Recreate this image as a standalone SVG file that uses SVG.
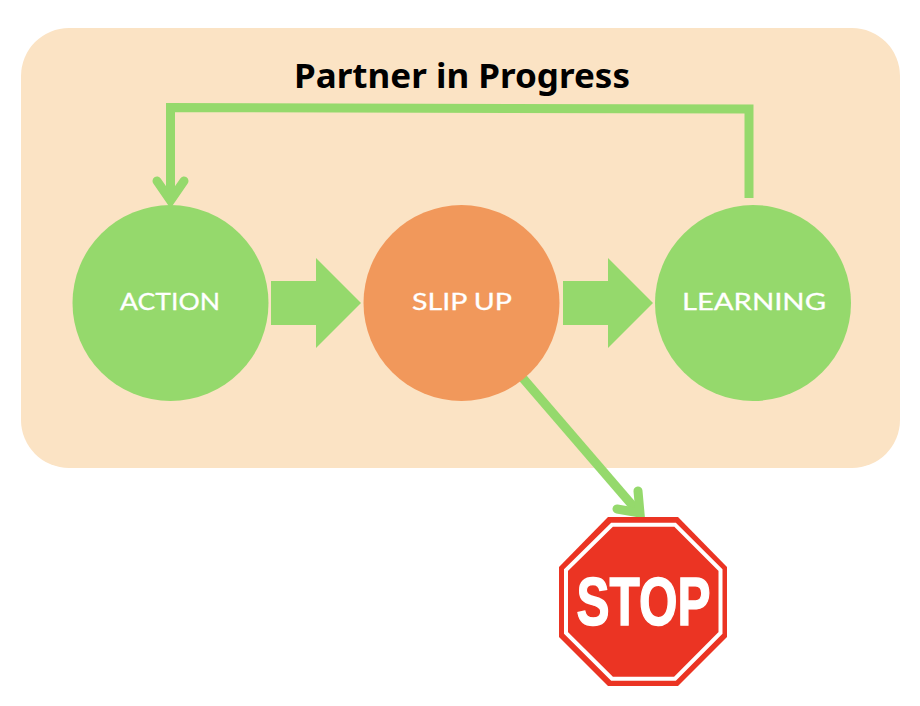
<svg xmlns="http://www.w3.org/2000/svg" width="920" height="706" viewBox="0 0 920 706">
<style>
.lbl{font-family:"Lato","Noto Sans",sans-serif;font-size:24px;fill:#fff;stroke:#fff;stroke-width:.3;text-anchor:middle}
.green{fill:#95D96C}
.line{fill:none;stroke:#95D96C;stroke-width:9}
.head{fill:none;stroke:#95D96C;stroke-width:9;stroke-linecap:round;stroke-linejoin:miter}
</style>
<rect width="920" height="706" fill="#fff"/>
<rect id="panel" x="21" y="28" width="879" height="440" rx="48" fill="#FBE3C4"/>
<text id="title" x="462" y="88" font-family="'Noto Sans','Open Sans',sans-serif" font-weight="700" font-size="34" text-anchor="middle" textLength="336" lengthAdjust="spacingAndGlyphs" fill="#000">Partner in Progress</text>
<g id="connectors">
<path class="line" d="M749 198V109L170.500 107.500V198"/>
<path class="head" d="M157 181L170.500 200.500L184 181"/>
<path class="green" d="M271 281H316V258L361 303L316 348V325H271Z"/>
<path class="green" d="M563 281H608V258L653 303L608 348V325H563Z"/>
<path class="line" d="M521 376L639 513"/>
<path class="head" d="M617 509L640 513L638 491"/>
</g>
<g id="action"><circle class="green" cx="170.500" cy="303" r="98"/><text class="lbl" x="170" y="310" textLength="100" lengthAdjust="spacingAndGlyphs">ACTION</text></g>
<g id="slip-up"><circle cx="461.500" cy="303" r="98" fill="#F1985B"/><text class="lbl" x="462" y="310" textLength="100" lengthAdjust="spacingAndGlyphs">SLIP UP</text></g>
<g id="learning"><circle class="green" cx="753" cy="303" r="98"/><text class="lbl" x="754" y="310" textLength="144" lengthAdjust="spacingAndGlyphs">LEARNING</text></g>
<g id="stop">
<polygon points="608,517 678,517 727,567 727,637 678,686 608,686 559,637 559,567" fill="#EB3423"/>
<polygon points="612,524.700 675,524.700 720.500,570 720.500,633 675,678.700 612,678.700 566,633 566,570" fill="none" stroke="#fff" stroke-width="4"/>
<text x="643.500" y="625" font-family="'Liberation Sans Narrow','Liberation Sans',sans-serif" font-weight="700" font-size="69" text-anchor="middle" textLength="134" lengthAdjust="spacingAndGlyphs" fill="#fff" stroke="#fff" stroke-width="1.500">STOP</text>
</g>
</svg>
